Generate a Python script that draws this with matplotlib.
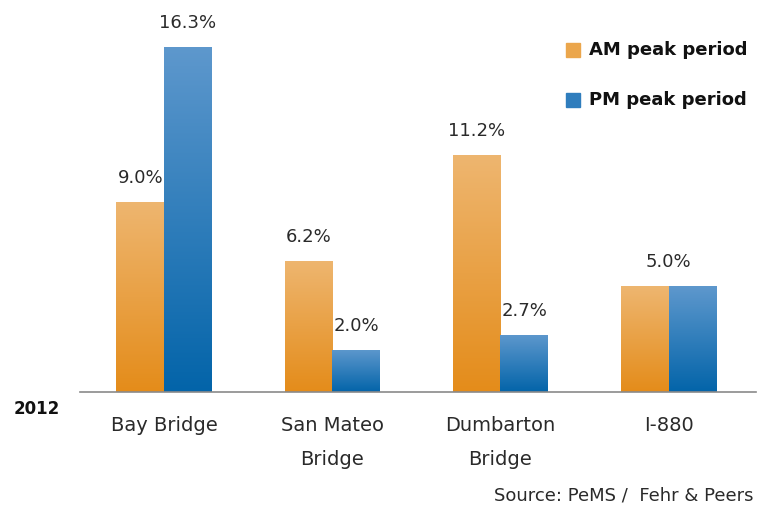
import numpy as np
import matplotlib.pyplot as plt
from matplotlib.colors import LinearSegmentedColormap

categories = ["Bay Bridge", "San Mateo\nBridge", "Dumbarton\nBridge", "I-880"]
am_values = [9.0, 6.2, 11.2, 5.0]
pm_values = [16.3, 2.0, 2.7, 5.0]
series_names = ["AM peak period", "PM peak period"]
year_label = "2012"
source_text = "Source: PeMS /  Fehr & Peers"

plt.rcParams['font.family'] = ['DejaVu Sans']

am_cmap = LinearSegmentedColormap.from_list("am", ["#e48c1a", "#eeb670"])
pm_cmap = LinearSegmentedColormap.from_list("pm", ["#0364a9", "#5e98cd"])

fig = plt.figure(figsize=(7.65, 5.08), dpi=100)
ax = fig.add_axes([80 / 765, 116 / 508, 676 / 765, 381 / 508])

width = 0.283
x = np.arange(len(categories))
grad = np.linspace(0, 1, 256).reshape(-1, 1)


def gradient_bar(x0, h, cmap):
    # invisible bar for the shape, gradient image clipped to it
    bar = ax.bar(x0, h, width, align='edge', color='none', linewidth=0)[0]
    im = ax.imshow(grad, cmap=cmap, origin='lower', aspect='auto',
                   extent=[x0, x0 + width, 0, h], zorder=2)
    im.set_clip_path(bar)


def value_label(xc, v):
    ax.text(xc, v + 0.7, f"{v:.1f}%", ha='center', va='bottom',
            fontsize=13, color='#2a2a2a')


for i in range(len(categories)):
    gradient_bar(x[i] - width, am_values[i], am_cmap)
    gradient_bar(x[i], pm_values[i], pm_cmap)
    if am_values[i] == pm_values[i]:
        value_label(x[i], am_values[i])
    else:
        value_label(x[i] - width / 2, am_values[i])
        value_label(x[i] + width / 2, pm_values[i])

ax.set_xlim(-0.5, 3.52)
ax.set_ylim(0, 18)
for s in ['top', 'right', 'left']:
    ax.spines[s].set_visible(False)
ax.spines['bottom'].set_color('#8a8a8a')
ax.spines['bottom'].set_linewidth(1.2)
ax.set_yticks([])
ax.set_xticks(x)
ax.set_xticklabels(categories, fontsize=14, color='#2a2a2a', linespacing=2.0)
ax.tick_params(axis='x', length=0, pad=17)

# legend drawn as squares plus bold labels
for j, (name, col) in enumerate(zip(series_names, ["#eba64c", "#2f7dbd"])):
    y = 1 - (50 + j * 50) / 508
    fig.patches.append(plt.Rectangle((566 / 765, y - 7 / 508), 14 / 765, 14 / 508,
                                     transform=fig.transFigure, color=col))
    fig.text(589 / 765, y, name, fontsize=13, fontweight='bold',
             va='center', ha='left', color='#111111')

fig.text(14 / 765, 1 - 409 / 508, year_label, fontsize=12, fontweight='bold',
         va='center', ha='left', color='#111111')
fig.text(753 / 765, 1 - 496 / 508, source_text, fontsize=13,
         va='center', ha='right', color='#2a2a2a')

fig.savefig("out.png", dpi=100)
